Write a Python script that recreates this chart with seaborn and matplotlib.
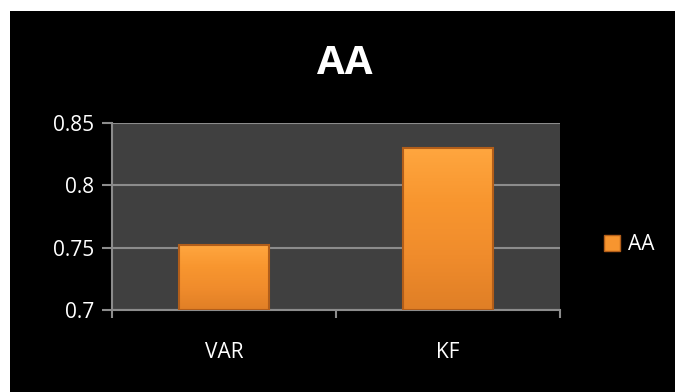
import numpy as np
import pandas as pd
import matplotlib
matplotlib.use("Agg")
import matplotlib.pyplot as plt
import matplotlib.patches as mpatches
from matplotlib.colors import LinearSegmentedColormap
import seaborn as sns

categories = ["VAR", "KF"]
values = [0.752, 0.830]
series_name = "AA"
y_ticks = [0.7, 0.75, 0.8, 0.85]
y_tick_labels = ["0.7", "0.75", "0.8", "0.85"]

sns.set_theme(style="dark")
plt.rcParams["font.family"] = ["Open Sans", "DejaVu Sans"]

df = pd.DataFrame({"cat": categories, "val": values, "series": series_name})

fig = plt.figure(figsize=(6.75, 3.92), dpi=100)
fig.patch.set_facecolor("white")
# black chart area (white strip at top/left as in reference)
fig.patches.append(mpatches.Rectangle((10 / 675, 0), 1, 1 - 11 / 392,
                                      transform=fig.transFigure,
                                      facecolor="black", edgecolor="none", zorder=-10))

ax = fig.add_axes([112 / 675, 82 / 392, 448 / 675, 187 / 392])
ax.set_facecolor("#404040")

ylo, yhi = 0.7, 0.85
bar_color = "#F7952F"
edge_color = "#B25E1A"
sns.barplot(data=df, x="cat", y="val", ax=ax, color=bar_color, width=0.4,
            edgecolor=edge_color, linewidth=1.5, zorder=3, saturation=1)
ax.set_ylim(ylo, yhi)
ax.set_xlim(-0.5, 1.5)

# gradient shading inside each bar
cmap = LinearSegmentedColormap.from_list("bev", ["#FFA63F", "#F8962F", "#F08C2C", "#E07F26"])
for p in ax.patches:
    top = p.get_y() + p.get_height()
    p.set_y(ylo)
    p.set_height(top - ylo)
    x0, w = p.get_x(), p.get_width()
    grad = np.linspace(1, 0, 100).reshape(-1, 1)
    im = ax.imshow(grad, extent=(x0, x0 + w, ylo, top), aspect="auto",
                   cmap=cmap, zorder=3.5, origin="lower")
    im.set_clip_path(p)
    p.set_facecolor("none")
    p.set_zorder(4)
ax.set_ylim(ylo, yhi)
ax.set_xlim(-0.5, 1.5)

ax.set_yticks(y_ticks)
ax.set_yticklabels(y_tick_labels)
ax.grid(axis="y", color="#8C8C8C", linewidth=1.5, zorder=1)
ax.grid(axis="x", visible=False)
ax.set_axisbelow(True)

ax.set_xlabel("")
ax.set_ylabel("")
for s in ["top", "right"]:
    ax.spines[s].set_visible(False)
for s in ["left", "bottom"]:
    ax.spines[s].set_visible(True)
    ax.spines[s].set_color("#8C8C8C")
    ax.spines[s].set_linewidth(1.5)

ax.tick_params(axis="y", which="major", labelsize=15,
               length=7, width=1.5, color="#8C8C8C", direction="out", left=True, pad=6)
ax.tick_params(axis="x", which="major", labelsize=15, length=0, pad=23)
ax.set_xticks([-0.5, 0.5, 1.5], minor=True)
ax.tick_params(axis="x", which="minor", length=6, width=1.5, color="#8C8C8C",
               direction="out", bottom=True)
for lab in ax.get_yticklabels() + ax.get_xticklabels():
    lab.set_color("white")

fig.text(345 / 675, 1 - 64 / 392, "AA", color="white", fontsize=29,
         fontweight="bold", ha="center", va="center")

handle = mpatches.Patch(facecolor=bar_color, edgecolor=edge_color, label=series_name)
leg = fig.legend(handles=[handle], loc="center left",
                 bbox_to_anchor=(585 / 675, 1 - 245 / 392), frameon=False,
                 fontsize=15, handlelength=0.8, handleheight=0.8, handletextpad=0.35)
for t in leg.get_texts():
    t.set_color("white")

fig.savefig("out.png", dpi=100, facecolor=fig.get_facecolor())
